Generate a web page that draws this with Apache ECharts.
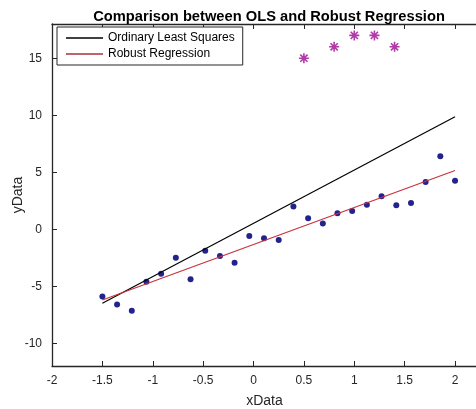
<!DOCTYPE html>
<html>
<head>
<meta charset="utf-8">
<script src="https://cdn.jsdelivr.net/npm/echarts@6/dist/echarts.min.js"></script>
<style>
  html, body { margin: 0; padding: 0; background: #fff; }
  #chart { width: 476px; height: 409px; }
</style>
</head>
<body>
<div id="chart"></div>
<script>
// data
const xData = [-1.5, -1.354, -1.208, -1.063, -0.917, -0.771, -0.625, -0.479, -0.333, -0.188, -0.042, 0.104, 0.25,
    0.396, 0.542, 0.688, 0.833, 0.979, 1.125, 1.271, 1.417, 1.563, 1.708, 1.854, 2];
const yData = [-5.9, -6.6, -7.15, -4.6, -3.9, -2.5, -4.4, -1.9, -2.35, -2.95, -0.6, -0.8, -0.95,
    2.0, 0.95, 0.5, 1.4, 1.6, 2.15, 2.9, 2.1, 2.3, 4.15, 6.4, 4.25];
const outlierX = [0.5, 0.8, 1, 1.2, 1.4];
const outlierY = [15, 16, 17, 17, 16];
const olsLine = [[-1.5, -6.5], [2, 9.86]];
const robustLine = [[-1.5, -6.21], [2, 5.15]];
const xTicks = [-2, -1.5, -1, -0.5, 0, 0.5, 1, 1.5, 2];
const yTicks = [-10, -5, 0, 5, 10, 15];

const font = 'Liberation Sans, Arial, sans-serif';
const chart = echarts.init(document.getElementById('chart'));

const star = 'path://M0,-5L0,5M-5,0L5,0M-3.6,-3.6L3.6,3.6M-3.6,3.6L3.6,-3.6';

function pairs(xs, ys) {
    return xs.map((x, i) => [x, ys[i]]);
}

function axisBase() {
    return {
        type: 'value',
        axisLine: { show: true, onZero: false, lineStyle: { color: '#262626', width: 1.3 } },
        axisTick: { show: true, inside: true, length: 5, lineStyle: { color: '#262626', width: 1 } },
        splitLine: { show: false }
    };
}

const bottomAxis = axisBase();
Object.assign(bottomAxis, {
    min: -2, max: 2.218, position: 'bottom',
    name: 'xData', nameLocation: 'middle', nameGap: 28, nameMoveOverlap: false,
    nameTextStyle: { fontFamily: font, fontSize: 14, color: '#262626' },
    axisLabel: { customValues: xTicks, margin: 9, fontFamily: font, fontSize: 12, color: '#262626' }
});
bottomAxis.axisTick.customValues = xTicks;

const topAxis = axisBase();
Object.assign(topAxis, {
    min: -2, max: 2.218, position: 'top',
    axisLabel: { show: false }
});
topAxis.axisTick.customValues = xTicks;

const leftAxis = axisBase();
Object.assign(leftAxis, {
    min: -12, max: 18, position: 'left',
    name: 'yData', nameLocation: 'middle', nameGap: 27, nameMoveOverlap: false,
    nameTextStyle: { fontFamily: font, fontSize: 14, color: '#262626' },
    axisLabel: { customValues: yTicks, margin: 10, fontFamily: font, fontSize: 12, color: '#262626' }
});
leftAxis.axisTick.customValues = yTicks;

chart.setOption({
    backgroundColor: '#fff',
    animation: false,
    title: {
        text: 'Comparison between OLS and Robust Regression',
        left: 264, top: 4, textAlign: 'center',
        textStyle: { fontFamily: font, fontSize: 14.7, fontWeight: 'bold', color: '#000' }
    },
    legend: {
        left: 57, top: 27,
        orient: 'vertical',
        data: ['Ordinary Least Squares', 'Robust Regression'],
        icon: 'rect',
        itemWidth: 37, itemHeight: 1.3, itemGap: 2,
        padding: [4, 8, 4, 9],
        borderColor: '#262626', borderWidth: 1,
        backgroundColor: '#fff', borderRadius: 0,
        textStyle: { fontFamily: font, fontSize: 12, color: '#000', lineHeight: 14 }
    },
    grid: {
        left: 52, top: 24, width: 425, height: 342,
        outerBoundsMode: 'none', containLabel: false
    },
    xAxis: [bottomAxis, topAxis],
    yAxis: [leftAxis],
    series: [
        {
            name: 'Data', type: 'scatter',
            data: pairs(xData, yData),
            symbol: 'circle', symbolSize: 6,
            itemStyle: { color: '#23238e', opacity: 1 }
        },
        {
            name: 'Outliers', type: 'scatter',
            data: pairs(outlierX, outlierY),
            symbol: star, symbolSize: 10,
            itemStyle: { color: 'rgba(0,0,0,0)', borderColor: '#b03aa8', borderWidth: 1.6, opacity: 1 }
        },
        {
            name: 'Ordinary Least Squares', type: 'line',
            data: olsLine, symbol: 'none',
            lineStyle: { color: '#000', width: 1.2 },
            itemStyle: { color: '#000' }
        },
        {
            name: 'Robust Regression', type: 'line',
            data: robustLine, symbol: 'none',
            lineStyle: { color: '#c8323c', width: 1.2 },
            itemStyle: { color: '#a83038' }
        }
    ]
});
</script>
</body>
</html>
